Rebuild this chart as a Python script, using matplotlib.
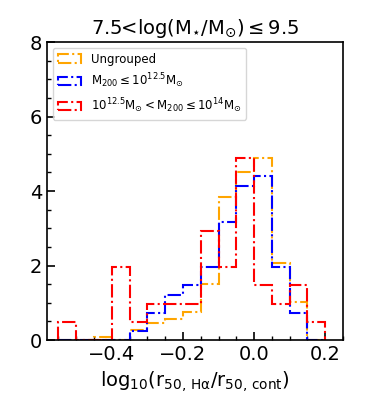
import numpy as np
import matplotlib
matplotlib.use("Agg")
import matplotlib.pyplot as plt
from matplotlib.ticker import MultipleLocator

plt.rcParams['mathtext.default'] = 'regular'

# bin edges (width 0.05) and counts per bin
edges = np.round(np.arange(-0.55, 0.2001, 0.05), 3)
centers = 0.5 * (edges[:-1] + edges[1:])

labels = ['Ungrouped',
          r'$M_{200}\leq10^{12.5}M_{\odot}$',
          r'$10^{12.5}M_{\odot}<M_{200}\leq10^{14}M_{\odot}$']
colors = ['orange', 'blue', 'red']

# bins:            -.55 -.5 -.45 -.4 -.35 -.3 -.25 -.2 -.15 -.1 -.05  0  .05  .1  .15
counts_ungrouped = [0,   0,   1,   0,   3,   5,   6,   8,  16,  41,  48, 52, 22, 11, 0]
counts_low       = [0,   0,   0,   0,   1,   3,   5,   6,   8,  13,  17, 18,  8,  3, 0]
counts_high      = [1,   0,   0,   4,   1,   2,   2,   2,   6,   4,  10,  3,  2,  3, 1]

title = r'7.5<log(M$_{\star}$/M$_{\odot}$)$\leq$9.5'
xlabel = r'log$_{10}$(r$_{50,\,H\alpha}$/r$_{50,\,cont}$)'

fig = plt.figure(figsize=(3.81, 4.04), dpi=100)
ax = fig.add_axes([0.1234, 0.1584, 0.777, 0.7376])

for cnt, col, lab in zip([counts_ungrouped, counts_low, counts_high], colors, labels):
    ax.hist(centers, bins=edges, weights=cnt, density=True, histtype='step',
            linestyle='-.', linewidth=1.5, color=col, label=lab)

ax.set_xlim(-0.582, 0.25)
ax.set_ylim(0, 8)
ax.xaxis.set_major_locator(MultipleLocator(0.2))
ax.xaxis.set_minor_locator(MultipleLocator(0.05))
ax.yaxis.set_major_locator(MultipleLocator(2))
ax.yaxis.set_minor_locator(MultipleLocator(0.5))
ax.tick_params(which='both', direction='in', labelsize=14)
ax.tick_params(which='major', length=6, width=1.2)
ax.tick_params(which='minor', length=3, width=1)
for s in ax.spines.values():
    s.set_linewidth(1.2)

ax.set_title(title, fontsize=14)
ax.set_xlabel(xlabel, fontsize=14)
ax.legend(loc='upper left', fontsize=8.5)

fig.savefig('out.png', dpi=100)
